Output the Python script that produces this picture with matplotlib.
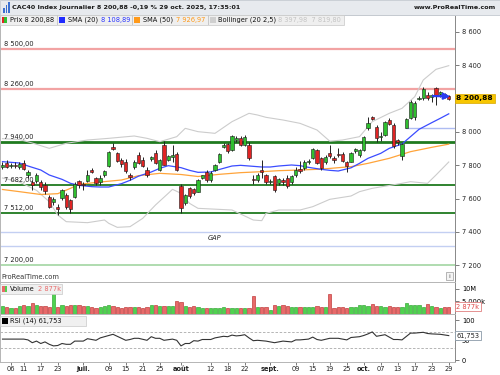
import numpy as np
import pandas as pd
import matplotlib
matplotlib.use("Agg")
import matplotlib.pyplot as plt
from matplotlib.patches import Rectangle

plt.rcParams['font.family'] = ['DejaVu Sans']
FS = 4.8  # taille des petits textes

# séance par séance, du 4 juin au 29 oct. 2025
dates = pd.bdate_range('2025-06-04', '2025-10-29')

opens = [7788, 7812, 7796, 7805, 7792, 7815, 7742, 7700, 7704, 7700,
         7682, 7612, 7580, 7550, 7604, 7624, 7592, 7612, 7708, 7688,
         7708, 7772, 7722, 7700, 7740, 7796, 7912, 7872, 7830, 7822,
         7740, 7790, 7862, 7830, 7772, 7836, 7875, 7772, 7922, 7832,
         7852, 7870, 7676, 7576, 7662, 7656, 7642, 7722, 7760, 7712,
         7770, 7822, 7912, 7930, 7892, 7955, 7966, 7925, 7925, 7720,
         7714, 7770, 7740, 7700, 7735, 7695, 7712, 7722, 7702, 7742,
         7778, 7782, 7822, 7845, 7892, 7842, 7818, 7872, 7845, 7870,
         7870, 7818, 7822, 7888, 7862, 7892, 8022, 8088, 8032, 7968,
         7982, 8072, 8044, 7955, 7855, 8026, 8085, 8090, 8200, 8202,
         8222, 8212, 8262, 8226, 8230, 8214]
highs = [7822, 7830, 7815, 7818, 7818, 7830, 7772, 7712, 7752, 7712,
         7700, 7625, 7610, 7570, 7660, 7635, 7600, 7700, 7715, 7700,
         7770, 7785, 7730, 7745, 7775, 7885, 7935, 7880, 7845, 7840,
         7755, 7830, 7880, 7850, 7790, 7855, 7890, 7840, 7945, 7862,
         7925, 7880, 7690, 7630, 7672, 7662, 7720, 7745, 7775, 7765,
         7810, 7875, 7935, 7935, 7985, 7978, 7975, 7980, 7940, 7740,
         7755, 7830, 7748, 7720, 7745, 7725, 7722, 7745, 7740, 7790,
         7825, 7830, 7840, 7905, 7900, 7850, 7860, 7925, 7858, 7905,
         7880, 7828, 7880, 7905, 7898, 7975, 8090, 8095, 8040, 8000,
         8065, 8085, 8055, 7960, 7935, 8082, 8190, 8185, 8215, 8272,
         8240, 8228, 8270, 8245, 8236, 8225]
lows = [7780, 7782, 7785, 7784, 7780, 7770, 7725, 7650, 7696, 7650,
        7630, 7545, 7565, 7505, 7595, 7540, 7515, 7605, 7665, 7655,
        7700, 7752, 7680, 7680, 7730, 7790, 7890, 7820, 7790, 7755,
        7712, 7780, 7808, 7790, 7730, 7828, 7810, 7765, 7800, 7825,
        7820, 7765, 7515, 7565, 7605, 7620, 7640, 7718, 7700, 7700,
        7765, 7815, 7905, 7875, 7885, 7940, 7915, 7915, 7835, 7690,
        7700, 7725, 7690, 7690, 7640, 7680, 7680, 7662, 7690, 7730,
        7755, 7775, 7810, 7840, 7808, 7775, 7810, 7845, 7815, 7848,
        7818, 7760, 7818, 7875, 7850, 7885, 8015, 8070, 7940, 7945,
        7975, 8040, 7905, 7925, 7835, 8026, 8080, 8075, 8190, 8195,
        8190, 8180, 8165, 8212, 8205, 8190]
closes = [7802, 7790, 7804, 7798, 7806, 7776, 7762, 7684, 7740, 7668,
          7648, 7553, 7596, 7537, 7650, 7548, 7540, 7690, 7682, 7682,
          7740, 7760, 7696, 7724, 7768, 7878, 7900, 7828, 7808, 7764,
          7730, 7822, 7814, 7798, 7745, 7848, 7816, 7834, 7804, 7856,
          7860, 7772, 7546, 7624, 7616, 7634, 7710, 7742, 7712, 7754,
          7804, 7866, 7922, 7884, 7978, 7965, 7925, 7968, 7843, 7712,
          7745, 7762, 7700, 7708, 7652, 7718, 7698, 7674, 7734, 7770,
          7765, 7822, 7826, 7898, 7815, 7786, 7852, 7855, 7830, 7862,
          7824, 7796, 7872, 7900, 7892, 7970, 8054, 8078, 7962, 7976,
          8060, 8048, 7914, 7940, 7928, 8076, 8182, 8174, 8206, 8256,
          8207, 8220, 8224, 8238, 8216, 8201]
# volume en millions
volume_m = [3.3, 2.8, 2.2, 2.2, 3.3, 3.5, 3.3, 4.3, 3.7, 3.3,
            3.3, 2.9, 8.3, 2.8, 3.7, 3.1, 3.4, 3.5, 3.7, 3.1,
            3.1, 2.8, 2.5, 2.8, 3.1, 3.7, 3.3, 2.8, 2.2, 2.7,
            2.8, 2.8, 2.8, 2.2, 2.8, 3.4, 3.4, 3.1, 3.1, 3.3,
            3.1, 5.2, 4.9, 3.1, 2.9, 3.1, 2.8, 2.5, 2.2, 2.2,
            2.5, 2.5, 2.8, 2.3, 2.3, 2.5, 2.5, 2.5, 2.5, 7.2,
            2.8, 2.8, 2.8, 1.4, 3.5, 3.1, 3.7, 3.1, 2.7, 2.8,
            2.9, 2.8, 2.7, 2.9, 3.3, 2.9, 2.9, 8.0, 2.2, 2.9,
            2.8, 2.5, 2.9, 2.9, 3.7, 3.5, 3.1, 4.0, 3.3, 3.3,
            2.8, 3.3, 2.8, 2.9, 2.9, 4.3, 3.5, 3.7, 3.7, 2.9,
            4.0, 3.3, 2.8, 2.5, 2.8, 2.877]

# indicateurs (indice de séance, valeur)
sma20_idx = [0, 4, 6, 9, 11, 14, 16, 18, 21, 23, 25, 28, 30, 32, 35, 37, 39, 42, 44, 46,
             49, 51, 54, 56, 58, 61, 63, 65, 68, 70, 72, 75, 77, 79, 82, 84, 86, 89, 91,
             94, 96, 98, 101, 103, 105]
sma20_val = [7822, 7814, 7796, 7772, 7742, 7716, 7692, 7680, 7672, 7670, 7670, 7690, 7710,
             7735, 7760, 7782, 7798, 7786, 7770, 7758, 7760, 7775, 7796, 7800, 7796, 7790,
             7790, 7796, 7802, 7798, 7788, 7776, 7770, 7766, 7785, 7812, 7842, 7872, 7902,
             7928, 7972, 8016, 8056, 8082, 8109]
sma50_idx = [0, 4, 9, 13, 16, 18, 23, 28, 32, 37, 42, 46, 51, 56, 61, 65, 70, 75, 80, 82,
             86, 91, 96, 101, 105]
sma50_val = [7655, 7642, 7625, 7630, 7662, 7686, 7700, 7712, 7738, 7752, 7745, 7733, 7746,
             7756, 7762, 7768, 7772, 7777, 7788, 7792, 7812, 7842, 7882, 7908, 7927]
bb_up_idx = [0, 4, 7, 11, 15, 20, 25, 31, 34, 37, 41, 43, 46, 50, 54, 58, 60, 62, 66, 70,
             74, 77, 80, 84, 87, 91, 94, 97, 99, 102, 105]
bb_up_val = [7960, 7955, 7934, 7902, 7932, 7952, 7962, 7976, 7962, 7942, 7972, 8022, 8002,
             7992, 8062, 8112, 8102, 8088, 8072, 8052, 8012, 7945, 7952, 7972, 8062, 8112,
             8142, 8212, 8312, 8376, 8398]
bb_lo_idx = [0, 4, 8, 11, 13, 15, 20, 24, 25, 27, 30, 33, 36, 39, 40, 42, 44, 46, 54, 59,
             61, 62, 65, 70, 73, 77, 82, 84, 87, 94, 96, 100, 102, 105]
bb_lo_val = [7724, 7700, 7650, 7582, 7502, 7462, 7456, 7472, 7452, 7428, 7432, 7482, 7562,
             7632, 7656, 7632, 7572, 7542, 7532, 7472, 7468, 7512, 7532, 7532, 7552, 7596,
             7616, 7642, 7662, 7692, 7702, 7692, 7742, 7820]
rsi_idx = [0, 5, 6, 7, 8, 9, 10, 11, 12, 13, 14, 15, 16, 17, 19, 20, 21, 22, 23, 25, 26,
           27, 28, 29, 30, 31, 32, 34, 35, 36, 37, 38, 40, 41, 42, 43, 44, 45, 46, 47, 49,
           50, 52, 53, 54, 55, 56, 57, 58, 59, 60, 62, 64, 66, 68, 69, 70, 72, 73, 74, 75,
           77, 79, 81, 82, 84, 85, 86, 87, 88, 89, 90, 91, 92, 93, 94, 96, 97, 98, 99, 100,
           101, 103, 105]
rsi_val = [53, 53, 51, 44, 48, 42, 46, 40, 36, 37, 42, 40, 40, 48, 48, 54, 52, 50, 56, 62,
           65, 60, 55, 50, 52, 55, 55, 50, 59, 55, 55, 50, 53, 50, 36, 42, 42, 49, 48, 52,
           52, 56, 60, 59, 63, 61, 62, 64, 56, 49, 50, 48, 44, 48, 46, 51, 51, 53, 58, 52,
           50, 55, 55, 51, 57, 59, 62, 66, 71, 60, 62, 64, 58, 52, 52, 51, 68, 68, 69, 70,
           67, 66, 65, 61.75]

# niveaux tracés
levels = [8500, 8260, 7940, 7682, 7512, 7200]
level_labels = ['8 500,00', '8 260,00', '7 940,00', '7 682,00', '7 512,00', '7 200,00']
gap_zone = [7400, 7318]
gap_line = 8026

price_ticks = [7200, 7400, 7600, 7800, 8000, 8200, 8400, 8600]
tick_days = ['2025-06-06', '2025-06-11', '2025-06-17', '2025-06-23', '2025-07-01', '2025-07-09',
             '2025-07-15', '2025-07-21', '2025-07-25', '2025-08-01', '2025-08-12', '2025-08-18',
             '2025-08-22', '2025-09-01', '2025-09-09', '2025-09-15', '2025-09-19', '2025-09-25',
             '2025-10-01', '2025-10-07', '2025-10-13', '2025-10-17', '2025-10-23', '2025-10-29']
tick_labels = ['06', '11', '17', '23', 'juil.', '09', '15', '21', '25', 'août', '12', '18',
               '22', 'sept.', '09', '15', '19', '25', 'oct.', '07', '13', '17', '23', '29']

W, H = 500, 375
fig = plt.figure(figsize=(5, 3.75), dpi=100)
fig.patch.set_facecolor('white')


def rect(x0, y0, x1, y1):
    return [x0 / W, 1 - y1 / H, (x1 - x0) / W, (y1 - y0) / H]


def fbox(x0, y0, x1, y1, **kw):
    fig.add_artist(Rectangle((x0 / W, 1 - y1 / H), (x1 - x0) / W, (y1 - y0) / H,
                             transform=fig.transFigure, **kw))


def ftext(x, y, s, **kw):
    fig.text(x / W, 1 - y / H, s, **kw)


ax = fig.add_axes(rect(0, 15, 455, 282))
axv = fig.add_axes(rect(0, 282, 455, 314), sharex=ax)
axr = fig.add_axes(rect(0, 314, 455, 362), sharex=ax)

idx = np.arange(len(dates))
o = np.array(opens, float)
h = np.array(highs, float)
l = np.array(lows, float)
c = np.array(closes, float)
up = c >= o
colors = np.where(up, '#2fbf2f', '#e02424')

# prix
for lv, lab, col, lw in zip(levels, level_labels,
                            ['#f2a3a3', '#f2a3a3', '#1f7a1f', '#1f7a1f', '#1f7a1f', '#a9d9a9'],
                            [1.6, 1.6, 2.0, 1.3, 1.3, 1.3]):
    ax.axhline(lv, color=col, lw=lw, zorder=1)
    ax.text(0.4, lv + 12, lab, fontsize=FS, color='#222222', ha='left', va='bottom', zorder=6)
for g in gap_zone:
    ax.axhline(g, color='#c3cff2', lw=1, zorder=1)
ax.text(50, np.mean(gap_zone) + 8, 'GAP', fontsize=FS, style='italic', color='#222222',
        ha='center', va='center')
ax.hlines(gap_line, 95, 107, color='#aebcf2', lw=1, zorder=1)

ax.plot(bb_up_idx, bb_up_val, color='#cccccc', lw=0.8, zorder=2)
ax.plot(bb_lo_idx, bb_lo_val, color='#cccccc', lw=0.8, zorder=2)
ax.plot(sma50_idx, sma50_val, color='#ffa43a', lw=0.9, zorder=2)
ax.plot(sma20_idx, sma20_val, color='#3b4cff', lw=0.9, zorder=2)

ax.vlines(idx, l, h, color='#222222', lw=0.7, zorder=3)
body = np.maximum(np.abs(c - o), 3)
ax.bar(idx, body, bottom=np.minimum(o, c), width=0.72, color=colors,
       edgecolor='#1a1a1a', linewidth=0.4, zorder=4)

ax.annotate('', xy=(106.0, 8214), xytext=(100.6, 8216),
            arrowprops=dict(arrowstyle='-|>', color='#2a3cf0', lw=1.6, mutation_scale=9),
            zorder=5)

ax.set_xlim(-0.588, 106.47)
ax.set_ylim(7100, 8702)
ax.yaxis.tick_right()
ax.set_yticks(price_ticks)
# l'étiquette 8 200 est masquée par le cadre du dernier cours
ax.set_yticklabels(['' if v == 8200 else f'{v:,}'.replace(',', ' ') for v in price_ticks])
ax.tick_params(axis='y', labelsize=FS, length=3, width=0.6, color='#666666', pad=2,
               labelcolor='#222222')
ax.tick_params(axis='x', which='both', bottom=False, labelbottom=False)
ax.text(1.003, closes[-1] + 0.88, '8 200,88', transform=ax.get_yaxis_transform(),
        ha='left', va='center', fontsize=5.3, fontweight='bold', color='black',
        bbox=dict(boxstyle='square,pad=0.25', fc='#f7c600', ec='#d8a800', lw=0.5),
        clip_on=False, zorder=8)
ax.text(0.004, 0.008, 'ProRealTime.com', transform=ax.transAxes, fontsize=FS,
        color='#333333', ha='left', va='bottom')

# volume
axv.bar(idx, volume_m, width=0.8, color=np.where(up, '#4fd24f', '#e86a6a'),
        edgecolor=np.where(up, '#1e9a1e', '#b52020'), linewidth=0.4)
axv.set_ylim(0, 12.6)
axv.yaxis.tick_right()
axv.set_yticks([5, 10])
axv.set_yticklabels(['5 000k', '10M'])
axv.tick_params(axis='y', labelsize=FS, length=3, width=0.6, color='#666666', pad=2)
axv.tick_params(axis='x', which='both', bottom=False, labelbottom=False)
axv.text(1.003, volume_m[-1], '2 877k', transform=axv.get_yaxis_transform(), ha='left',
         va='center', fontsize=FS, color='#e04848',
         bbox=dict(boxstyle='square,pad=0.2', fc='white', ec='#e08080', lw=0.6),
         clip_on=False, zorder=8)

# RSI
axr.axhline(70, color='#aaaaaa', lw=0.6, ls=(0, (3, 2)))
axr.axhline(30, color='#aaaaaa', lw=0.6, ls=(0, (3, 2)))
axr.plot(rsi_idx, rsi_val, color='#333333', lw=0.8)
axr.set_ylim(-4.25, 115.75)
axr.yaxis.tick_right()
axr.set_yticks([0, 50, 100])
axr.set_yticklabels(['0', '50', '100'])
axr.tick_params(axis='y', labelsize=FS, length=3, width=0.6, color='#666666', pad=2)
axr.text(1.003, rsi_val[-1], '61,753', transform=axr.get_yaxis_transform(), ha='left',
         va='center', fontsize=FS, color='#222222',
         bbox=dict(boxstyle='square,pad=0.2', fc='white', ec='#8a9aa8', lw=0.6),
         clip_on=False, zorder=8)

tpos = [dates.get_loc(pd.Timestamp(d)) for d in tick_days]
axr.set_xticks(tpos)
axr.set_xticklabels(tick_labels)
for t in axr.get_xticklabels():
    if not t.get_text().isdigit():
        t.set_fontweight('bold')
axr.tick_params(axis='x', labelsize=FS, length=2, width=0.6, color='#666666', pad=1,
                labelcolor='#222222')

for a in (ax, axv, axr):
    for s in a.spines.values():
        s.set_color('#b5b5b5')
        s.set_linewidth(0.7)
    a.spines['right'].set_color('#888888')

# légendes des panneaux
fbox(0, 284, 62, 293.5, fc='#f0f0f0', ec='#c8c8c8', lw=0.5)
fbox(2, 286, 4.5, 292, fc='#e86a6a', ec='none')
fbox(4.5, 286, 7, 292, fc='#4fd24f', ec='none')
ftext(10, 289, 'Volume', fontsize=FS, va='center', color='#111111')
ftext(38, 289, '2 877k', fontsize=FS, va='center', color='#e86a6a')
fbox(0, 316, 86, 325.5, fc='#f0f0f0', ec='#c8c8c8', lw=0.5)
fbox(2, 318, 8, 324, fc='black', ec='none')
ftext(10, 321, 'RSI (14) 61,753', fontsize=FS, va='center', color='#111111')
fbox(446, 272, 453, 280, fc='#f4f4f4', ec='#999999', lw=0.5)
ftext(449.5, 276, 'i', fontsize=4.5, ha='center', va='center', color='#555555')

# bandeau titre
fbox(0, 0, 500, 15, fc='#e7eaee', ec='#c4c9d0', lw=0.6)
for bx, bh in ((3, 5), (5.5, 8), (8, 11)):
    fbox(bx, 13 - bh, bx + 1.5, 13, fc='#3a6fd0', ec='none')
ftext(12, 7.5, 'CAC40 Index Journalier 8 200,88 -0,19 % 29 oct. 2025, 17:35:01',
      fontsize=4.6, fontweight='bold', va='center', color='#1a1a1a')
ftext(496, 7.5, 'www.ProRealTime.com', fontsize=4.6, fontweight='bold', va='center',
      ha='right', color='#1a1a1a')

# légende du prix
fbox(0, 15, 344, 24.5, fc='#efefef', ec='#c8c8c8', lw=0.5)
for sx in (57, 132, 208):
    fbox(sx, 15, sx + 0.6, 24.5, fc='#c8c8c8', ec='none')
fbox(1.5, 17, 4, 23, fc='#e02424', ec='none')
fbox(4, 17, 6.5, 23, fc='#2fbf2f', ec='none')
ftext(10, 20, 'Prix 8 200,88', fontsize=FS, va='center', color='#111111')
fbox(59, 17, 65, 23, fc='#1f2bff', ec='none')
ftext(68, 20, 'SMA (20)', fontsize=FS, va='center', color='#111111')
ftext(101, 20, '8 108,89', fontsize=FS, va='center', color='#2a35ff')
fbox(134, 17, 140, 23, fc='#ff9a1a', ec='none')
ftext(143, 20, 'SMA (50)', fontsize=FS, va='center', color='#111111')
ftext(176, 20, '7 926,97', fontsize=FS, va='center', color='#ff9a1a')
fbox(210, 17, 216, 23, fc='#cfcfcf', ec='none')
ftext(218, 20, 'Bollinger (20 2,5)', fontsize=FS, va='center', color='#111111')
ftext(278, 20, '8 397,98  7 819,80', fontsize=FS, va='center', color='#c4c4c4')

fig.savefig('out.png', dpi=100)
